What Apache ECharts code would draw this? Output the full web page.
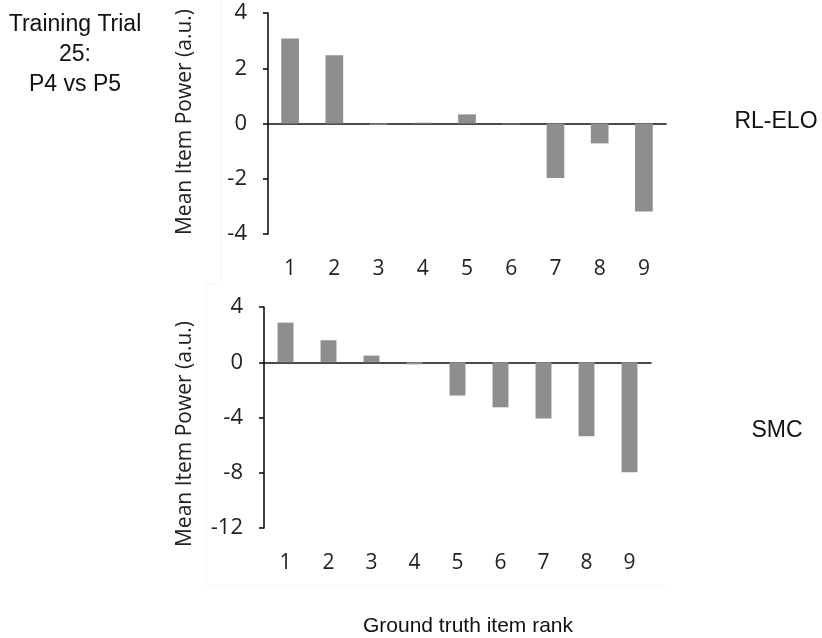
<!DOCTYPE html>
<html>
<head>
<meta charset="utf-8">
<script src="https://cdn.jsdelivr.net/npm/echarts@6/dist/echarts.min.js"></script>
<style>html,body{margin:0;padding:0;background:#fff}#c{width:822px;height:638px}</style>
</head>
<body>
<div id="c"></div>
<script>
var categories = ['1', '2', '3', '4', '5', '6', '7', '8', '9'];
var rlEloValues = [3.08, 2.47, -0.05, 0.03, 0.33, -0.03, -1.97, -0.72, -3.19];
var smcValues = [2.87, 1.59, 0.48, -0.15, -2.41, -3.26, -4.08, -5.36, -7.97];
var topTicks = { min: -4, max: 4, interval: 2 };
var bottomTicks = { min: -12, max: 4, interval: 4 };
var yTitle = 'Mean Item Power (a.u.)';
var xTitle = 'Ground truth item rank';
var topLabel = 'RL-ELO';
var bottomLabel = 'SMC';
var sideTitle = 'Training Trial\n25:\nP4 vs P5';

var barColor = '#8e8e8e';
var tickFont = '"Open Sans", sans-serif';
var textFont = '"Liberation Sans", Arial, sans-serif';

var chart = echarts.init(document.getElementById('c'), null, { renderer: 'canvas' });

function labelAxis(gridIndex) {
  return {
    type: 'category', gridIndex: gridIndex, data: categories, position: 'bottom',
    axisLine: { show: false, onZero: false }, axisTick: { show: false },
    axisLabel: { fontSize: 21, fontFamily: tickFont, color: '#222', margin: 25 }
  };
}
function zeroAxis(gridIndex) {
  return {
    type: 'category', gridIndex: gridIndex, data: categories, position: 'top',
    axisLine: { show: true, onZero: true, lineStyle: { color: '#111', width: 1.6 } },
    axisTick: { show: false }, axisLabel: { show: false }
  };
}
function valAxis(gridIndex, t) {
  return {
    type: 'value', gridIndex: gridIndex, min: t.min, max: t.max, interval: t.interval,
    axisLine: { show: true, lineStyle: { color: '#111', width: 1.6 } },
    axisTick: { show: true, length: 5, lineStyle: { color: '#111', width: 1.6 } },
    splitLine: { show: false },
    axisLabel: { fontSize: 22, fontFamily: tickFont, color: '#222', margin: 21 }
  };
}

chart.setOption({
  animation: false,
  backgroundColor: '#fff',
  grid: [
    { left: 268, top: 13, width: 398, height: 221 },
    { left: 264, top: 307, width: 387, height: 221 }
  ],
  xAxis: [labelAxis(0), zeroAxis(0), labelAxis(1), zeroAxis(1)],
  yAxis: [valAxis(0, topTicks), valAxis(1, bottomTicks)],
  series: [
    { type: 'bar', xAxisIndex: 0, yAxisIndex: 0, data: rlEloValues, barWidth: '40%',
      itemStyle: { color: barColor }, z: 1 },
    { type: 'bar', xAxisIndex: 2, yAxisIndex: 1, data: smcValues, barWidth: '37%',
      itemStyle: { color: barColor }, z: 1 }
  ],
  graphic: [
    { type: 'line', shape: { x1: 221, y1: 0, x2: 221, y2: 284 }, style: { stroke: '#f6f6f6', lineWidth: 1 }, silent: true },
    { type: 'line', shape: { x1: 206, y1: 284, x2: 221, y2: 284 }, style: { stroke: '#f6f6f6', lineWidth: 1 }, silent: true },
    { type: 'line', shape: { x1: 206, y1: 284, x2: 206, y2: 585 }, style: { stroke: '#f6f6f6', lineWidth: 1 }, silent: true },
    { type: 'line', shape: { x1: 206, y1: 585, x2: 668, y2: 585 }, style: { stroke: '#f6f6f6', lineWidth: 1 }, silent: true },
    { type: 'text', x: 75, y: 10, style: { text: sideTitle, font: '23px ' + textFont, fill: '#111', textAlign: 'center', lineHeight: 30 } },
    { type: 'text', x: 185, y: 122, rotation: Math.PI / 2,
      style: { text: yTitle, font: '21px ' + tickFont, fill: '#222', textAlign: 'center', textVerticalAlign: 'middle' } },
    { type: 'text', x: 185, y: 434, rotation: Math.PI / 2,
      style: { text: yTitle, font: '21px ' + tickFont, fill: '#222', textAlign: 'center', textVerticalAlign: 'middle' } },
    { type: 'text', x: 776, y: 122, style: { text: topLabel, font: '23px ' + textFont, fill: '#111', textAlign: 'center', textVerticalAlign: 'middle' } },
    { type: 'text', x: 777, y: 431, style: { text: bottomLabel, font: '23px ' + textFont, fill: '#111', textAlign: 'center', textVerticalAlign: 'middle' } },
    { type: 'text', x: 468, y: 626, style: { text: xTitle, font: '21px ' + textFont, fill: '#111', textAlign: 'center', textVerticalAlign: 'middle' } }
  ]
});
</script>
</body>
</html>
